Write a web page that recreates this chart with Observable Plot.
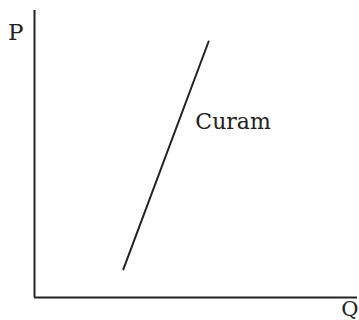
<!DOCTYPE html>
<html>
<head>
<meta charset="utf-8">
<script src="https://cdn.jsdelivr.net/npm/d3@7"></script>
<script src="https://cdn.jsdelivr.net/npm/@observablehq/plot@0.6"></script>
<style>
  html, body { margin: 0; padding: 0; background: #fff; }
  svg { display: block; }
</style>
</head>
<body>
<div id="chart"></div>
<script>
// Supply curve endpoints (quantity, price) in arbitrary units
const curveQ = [2.75, 5.39];
const curveP = [0.98, 8.92];
const curveName = "Curam";
const axisLabelY = "P";
const axisLabelX = "Q";

const curve = curveQ.map((q, i) => ({q, p: curveP[i]}));

const font = "DejaVu Serif, serif";

const chart = Plot.plot({
  width: 359,
  height: 320,
  marginLeft: 34,
  marginRight: 2,
  marginTop: 10,
  marginBottom: 23,
  x: {domain: [0, 10], axis: null},
  y: {domain: [0, 10], axis: null},
  style: {fontFamily: font, background: "#fff"},
  marks: [
    Plot.ruleX([0], {stroke: "#222", strokeWidth: 2}),
    Plot.ruleY([0], {stroke: "#222", strokeWidth: 2}),
    Plot.line(curve, {x: "q", y: "p", stroke: "#222", strokeWidth: 2}),
    Plot.text([curveName], {x: 4.98, y: 6.13, text: d => d, textAnchor: "start", fontSize: 22, fill: "#222", fontFamily: font}),
    Plot.text([axisLabelY], {x: -0.82, y: 9.23, text: d => d, textAnchor: "start", fontSize: 23, fill: "#222", fontFamily: font, clip: false}),
    Plot.text([axisLabelX], {x: 9.5, y: -0.4, text: d => d, textAnchor: "start", fontSize: 21, fill: "#222", fontFamily: font, clip: false})
  ]
});
document.getElementById("chart").append(chart);
</script>
</body>
</html>
